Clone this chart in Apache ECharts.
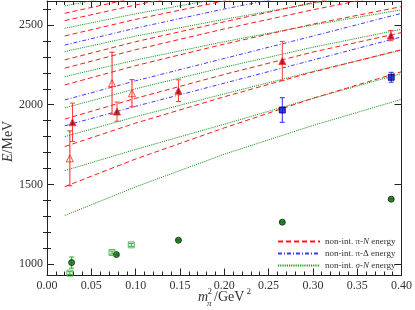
<!DOCTYPE html>
<html><head><meta charset="utf-8">
<script src="https://cdn.jsdelivr.net/npm/echarts@6/dist/echarts.min.js"></script>
<style>html,body{margin:0;padding:0;background:#fff}#c{width:415px;height:310px}</style>
</head><body><div id="c"></div>
<script>
// x positions (m_pi^2 in GeV^2) where the non-interacting levels are read
const lineX = [0.02, 0.10, 0.20, 0.30, 0.40];
// non-interacting pi-N levels (MeV)
const piNLevels = [
  [1487, 1660, 1855, 2040, 2207],
  [1738, 1885, 2050, 2205, 2345],
  [1910, 2040, 2190, 2330, 2452],
  [2124, 2245, 2380, 2505, 2615],
  [2229, 2345, 2475, 2595, 2705],
  [2281, 2395, 2520, 2640, 2750],
  [2431, 2535, 2650, 2755, 2855],
  [2527, 2625, 2735, 2840, 2935],
  [2573, 2670, 2780, 2880, 2975]
];
// non-interacting pi-Delta levels
const piDLevels = [
  [1868, 1990, 2135, 2280, 2425],
  [2030, 2150, 2290, 2430, 2573],
  [2374, 2480, 2600, 2710, 2815]
];
// non-interacting sigma-N levels
const sigNLevels = [
  [1306, 1485, 1690, 1870, 2034],
  [1587, 1720, 1878, 2040, 2195],
  [1800, 1925, 2068, 2208, 2342],
  [1980, 2100, 2235, 2360, 2473],
  [2176, 2280, 2395, 2500, 2595],
  [2333, 2430, 2535, 2635, 2725],
  [2479, 2570, 2670, 2765, 2850],
  [2619, 2705, 2800, 2890, 2975]
];
// lattice energies
const openTriX = [0.0258, 0.0734, 0.0959];
const openTriE = [1664, 2135, 2072];
const openTriErr = [172, 194, 85];
const fillTriX = [0.0288, 0.0790, 0.1483, 0.2655, 0.3880];
const fillTriE = [1890, 1957, 2088, 2274, 2433];
const fillTriErr = [120, 60, 68, 123, 32];
const blueSqX = [0.2655, 0.3884];
const blueSqE = [1967, 2172];
const blueSqErr = [77, 31];
const nucFillX = [0.0278, 0.0783, 0.1483, 0.2655, 0.3884];
const nucFillE = [1011, 1061, 1151, 1264, 1408];
const nucFillErr = [35, 4, 4, 4, 4];
const nucOpenX = [0.0258, 0.0734, 0.0951];
const nucOpenE = [945, 1074, 1122];
const nucOpenErr = [9, 9, 9];
// axis ticks
const xTicks = [0, 0.05, 0.10, 0.15, 0.20, 0.25, 0.30, 0.35, 0.40];
const yLabels = [1000, 1500, 2000, 2500];
const yMinor = [1100, 1200, 1300, 1400, 1600, 1700, 1800, 1900, 2100, 2200, 2300, 2400, 2600];

const SERIF = "'Liberation Serif', 'DejaVu Serif', serif";
const chart = echarts.init(document.getElementById('c'), null, {renderer: 'canvas'});

function lineSeries(name, vals, color, type) {
  return {type: 'line', name: name, data: lineX.map((x, i) => [x, vals[i]]),
    symbol: 'none', showSymbol: false, silent: true, z: 2,
    lineStyle: {color: color, width: 1, type: type}, itemStyle: {color: color}};
}
function errSeries(xs, es, errs, color) {
  return {type: 'custom', silent: true, z: 3,
    data: xs.map((x, i) => [x, es[i], errs[i]]),
    renderItem: function (params, api) {
      const x = api.value(0), y = api.value(1), e = api.value(2);
      const t = api.coord([x, y + e]), b = api.coord([x, y - e]);
      const w = 2.5, st = {stroke: color, lineWidth: 1};
      return {type: 'group', children: [
        {type: 'line', shape: {x1: t[0], y1: t[1], x2: b[0], y2: b[1]}, style: st},
        {type: 'line', shape: {x1: t[0] - w, y1: t[1], x2: t[0] + w, y2: t[1]}, style: st},
        {type: 'line', shape: {x1: b[0] - w, y1: b[1], x2: b[0] + w, y2: b[1]}, style: st}
      ]};
    }};
}
function scatter(xs, es, symbol, size, fill, border) {
  return {type: 'scatter', silent: true, z: 4, data: xs.map((x, i) => [x, es[i]]),
    symbol: symbol, symbolSize: size,
    itemStyle: {color: fill, borderColor: border, borderWidth: 1}};
}

const series = [];
sigNLevels.forEach(v => series.push(lineSeries('sigN', v, '#1f9a1f', [1.2, 1])));
piNLevels.forEach(v => series.push(lineSeries('piN', v, '#ff1a1a', [5, 3])));
piDLevels.forEach(v => series.push(lineSeries('piD', v, '#3a3aff', [4, 2, 1, 2])));
series.push(errSeries(openTriX, openTriE, openTriErr, '#ff2020'));
series.push(errSeries(fillTriX, fillTriE, fillTriErr, '#ff3b3b'));
series.push(errSeries(blueSqX, blueSqE, blueSqErr, '#2a2aff'));
series.push(errSeries(nucFillX, nucFillE, nucFillErr, '#33a033'));
series.push(errSeries(nucOpenX, nucOpenE, nucOpenErr, '#33aa33'));
series.push(scatter(openTriX, openTriE, 'triangle', 7, 'rgba(255,255,255,0)', '#ff2020'));
series.push(scatter(fillTriX, fillTriE, 'triangle', 7, '#8a0010', '#ff3030'));
series.push(scatter(blueSqX, blueSqE, 'rect', 6, '#0a0ad0', '#00005a'));
series.push(scatter(nucFillX, nucFillE, 'circle', 6, '#0a6a0a', '#022a02'));
series.push(scatter(nucOpenX, nucOpenE, 'rect', 6, 'rgba(255,255,255,0)', '#33aa33'));

const axisLineStyle = {color: '#222', width: 1};
const xCommon = {type: 'value', min: 0, max: 0.4, interval: 0.05,
  axisLine: {show: true, onZero: false, lineStyle: axisLineStyle},
  axisTick: {show: true, inside: true, length: 7, lineStyle: axisLineStyle},
  minorTick: {show: true, splitNumber: 5, length: 4, lineStyle: axisLineStyle},
  splitLine: {show: false}, minorSplitLine: {show: false}};
const yMajor = {type: 'value', min: 930, max: 2650,
  axisLine: {show: true, onZero: false, lineStyle: axisLineStyle},
  axisTick: {show: true, inside: true, length: 7, customValues: yLabels, lineStyle: axisLineStyle},
  splitLine: {show: false}};
const yMin = {type: 'value', min: 930, max: 2650,
  axisLine: {show: false},
  axisTick: {show: true, inside: true, length: 4, customValues: yMinor, lineStyle: axisLineStyle},
  axisLabel: {show: false}, splitLine: {show: false}};

const legendNames = {piN: 'non-int. π-{i|N} energy', piD: 'non-int. π-Δ energy', sigN: 'non-int. {i|σ}-{i|N} energy'};

chart.setOption({
  animation: false,
  backgroundColor: '#fff',
  grid: {left: 47, right: 12, top: 1, bottom: 34.5, containLabel: false},
  xAxis: [
    Object.assign({}, xCommon, {position: 'bottom',
      axisLabel: {show: true, margin: 4, color: '#333', fontFamily: SERIF, fontSize: 12,
        formatter: v => v.toFixed(2), customValues: xTicks}}),
    Object.assign({}, xCommon, {position: 'top', axisLabel: {show: false}})
  ],
  yAxis: [
    Object.assign({}, yMajor, {position: 'left',
      axisLabel: {show: true, margin: 4, color: '#333', fontFamily: SERIF, fontSize: 12,
        formatter: v => String(v), customValues: yLabels}}),
    Object.assign({}, yMin, {position: 'left'}),
    Object.assign({}, yMajor, {position: 'right', axisLabel: {show: false}}),
    Object.assign({}, yMin, {position: 'right'})
  ],
  legend: {data: ['piN', 'piD', 'sigN'], orient: 'vertical', left: 277, top: 237, padding: 0,
    itemWidth: 42, itemHeight: 8, itemGap: 3, itemStyle: {opacity: 0},
    formatter: n => legendNames[n],
    textStyle: {fontFamily: SERIF, fontSize: 9, color: '#333', padding: [0, 0, 0, 0],
      rich: {i: {fontFamily: SERIF, fontSize: 9, fontStyle: 'italic', color: '#333'}}}},
  graphic: [
    {type: 'text', left: 198, top: 290, style: {text: 'm', font: "italic 14px 'Liberation Serif'", fill: '#333'}},
    {type: 'text', left: 207.5, top: 287, style: {text: '2', font: "9px 'Liberation Serif'", fill: '#333'}},
    {type: 'text', left: 207, top: 299, style: {text: 'π', font: "italic 9px 'Liberation Serif'", fill: '#333'}},
    {type: 'text', left: 214, top: 290, style: {text: '/GeV', font: "14px 'Liberation Serif'", fill: '#333'}},
    {type: 'text', left: 246.5, top: 287, style: {text: '2', font: "9px 'Liberation Serif'", fill: '#333'}},
    {type: 'text', x: 1, y: 162, rotation: Math.PI / 2,
      style: {text: '{i|E}{n|/MeV}', fill: '#333',
        rich: {i: {font: "italic 14px 'Liberation Serif'", fill: '#333'}, n: {font: "14px 'Liberation Serif'", fill: '#333'}}}}
  ],
  series: series
});
</script></body></html>
